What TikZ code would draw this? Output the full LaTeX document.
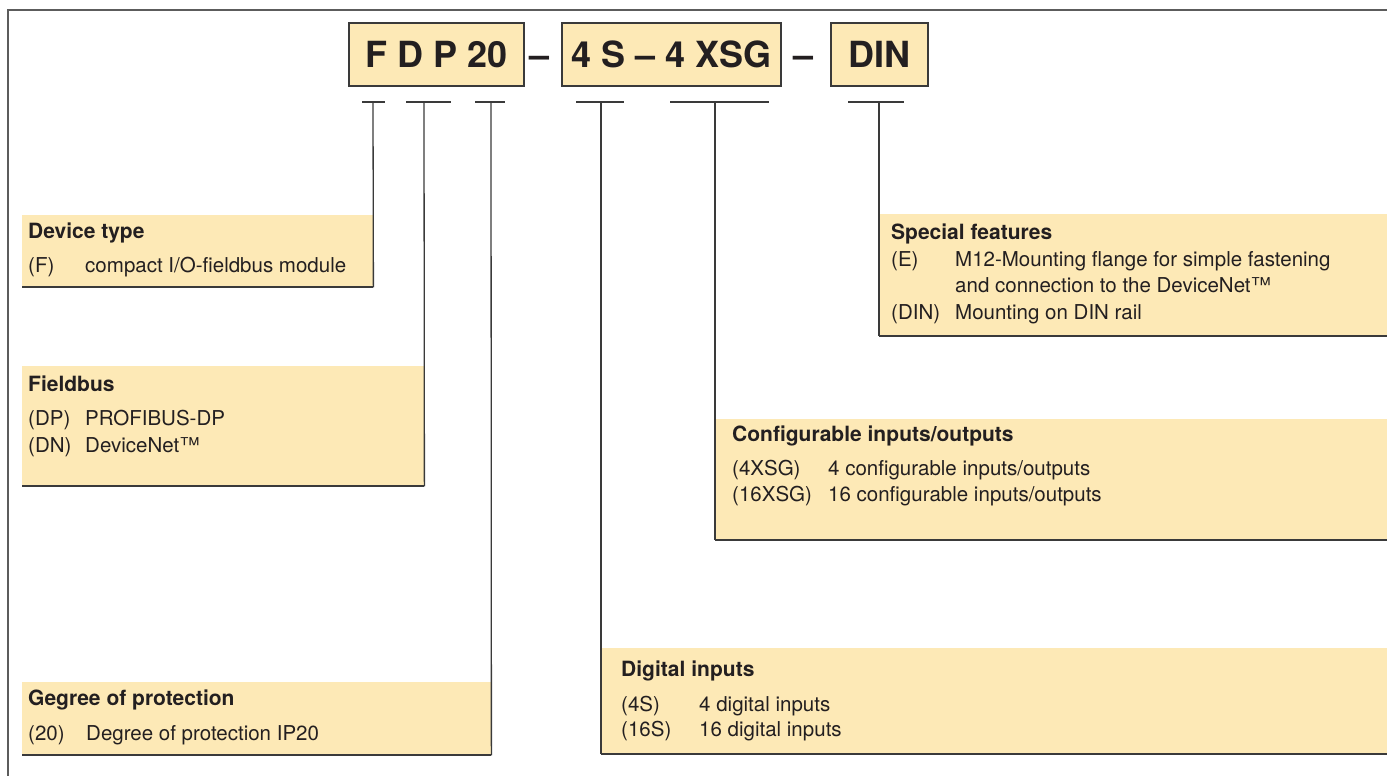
\documentclass[tikz,border=0pt]{standalone}
\usepackage{fontspec}
\setmainfont{TeX Gyre Heros}
\usetikzlibrary{positioning}
\definecolor{fgdark}{HTML}{231F20}
\definecolor{edgecol}{HTML}{3A3A3A}
\definecolor{framecol}{HTML}{5C5C5C}
\definecolor{panelfill}{HTML}{FDE9B6}
\tikzset{
  codebox/.style={
    draw=edgecol, fill=panelfill, line width=1.2pt,
    minimum height=63pt, inner sep=0pt,
    font=\fontsize{36}{36}\selectfont\bfseries, text=fgdark,
  },
  codesep/.style={inner sep=0pt, font=\fontsize{36}{36}\selectfont\bfseries, text=fgdark},
  panel/.style={fill=panelfill, inner sep=0pt, anchor=north west},
  ptitle/.style={anchor=base west, inner sep=0pt, font=\fontsize{21}{24}\selectfont\bfseries, text=fgdark},
  pitem/.style={anchor=base west, inner sep=0pt, font=\fontsize{20.5}{24}\selectfont, text=fgdark},
  conn/.style={edgecol, line width=1.3pt},
  ledge/.style={edgecol, line width=2pt},
  outframe/.style={framecol, line width=1.5pt},
}

\begin{document}
\begin{tikzpicture}[x=1pt, y=-1pt]
\useasboundingbox (0,0) rectangle (1387,776);

% ── outer frame (open to the right and bottom) ─────────────────
\draw[outframe] (8,776) -- (8,10) -- (1387,10);

% ── type code ──────────────────────────────────────────────────
\node[codebox, minimum width=175pt] (codeA) at (436.5,54.5) {F D P 20};
\node[codesep, anchor=base] (dashA) at (540,67) {--};
\node[codebox, minimum width=219pt] (codeB) at (671.5,54.5) {4 S -- 4 XSG};
\node[codesep, anchor=base] (dashB) at (803,67) {--};
\node[codebox, minimum width=97pt] (codeC) at (879.5,54.5) {DIN};

% ── tick marks under the code letters ──────────────────────────
\coordinate (tF)   at (373,102);
\coordinate (tD)   at (424,102);
\coordinate (tP)   at (491,102);
\coordinate (tS)   at (601,102);
\coordinate (tXSG) at (715,102);
\coordinate (tDIN) at (879,102);
\draw[conn] ([xshift=-11]tF) -- ([xshift=12]tF);
\draw[conn] ([xshift=-18]tD) -- ([xshift=27]tD);
\draw[conn] ([xshift=-16]tP) -- ([xshift=14]tP);
\draw[conn] ([xshift=-25]tS) -- ([xshift=23]tS);
\draw[conn] ([xshift=-45]tXSG) -- ([xshift=54]tXSG);
\draw[conn] ([xshift=-31]tDIN) -- ([xshift=25]tDIN);

% ── panels (left) ──────────────────────────────────────────────
\node[panel, minimum width=351pt, minimum height=72pt]  (devtype) at (22,215) {};
\node[panel, minimum width=402pt, minimum height=120pt] (fieldbus) at (22,366) {};
\node[panel, minimum width=469pt, minimum height=73pt]  (protect) at (22,682) {};

% ── panels (right) ─────────────────────────────────────────────
\node[panel, minimum width=520pt, minimum height=122pt] (special) at (879,214) {};
\node[panel, minimum width=680pt, minimum height=121pt] (cfgio) at (715,419) {};
\node[panel, minimum width=795pt, minimum height=106pt] (digin) at (601,648) {};

% ── connectors and panel edges ─────────────────────────────────
\draw[conn] (tF) -- (devtype.south east);
\draw[conn] (tD) -- (fieldbus.south east);
\draw[conn] (tP) -- (protect.south east);
\draw[conn] (tS) -- (digin.south west);
\draw[conn] (tXSG) -- (cfgio.south west);
\draw[conn] (tDIN) -- (special.south west);
\draw[ledge] (devtype.south west) -- (devtype.south east);
\draw[ledge] (fieldbus.south west) -- (fieldbus.south east);
\draw[ledge] (protect.south west) -- (protect.south east);
\draw[ledge] (digin.south west) -- (digin.south east);
\draw[ledge] (cfgio.south west) -- (cfgio.south east);
\draw[ledge] (special.south west) -- (special.south east);

% ── panel texts ────────────────────────────────────────────────
\node[ptitle] (devtypeT) at (28,238.5) {Device type};
\node[pitem]  (fK)  at (28,272) {(F)};
\node[pitem]  (fV)  at (85,272) {compact I/O-fieldbus module};

\node[ptitle] (fieldbusT) at (28,391.5) {Fieldbus};
\node[pitem]  (dpK) at (28,425) {(DP)};
\node[pitem]  (dpV) at (85,425) {PROFIBUS-DP};
\node[pitem]  (dnK) at (28,452) {(DN)};
\node[pitem]  (dnV) at (85,452) {DeviceNet™};

\node[ptitle] (protectT) at (28,705.5) {Gegree of protection};
\node[pitem]  (ipK) at (28,740) {(20)};
\node[pitem]  (ipV) at (86,740) {Degree of protection IP20};

\node[ptitle] (specialT) at (891,239.5) {Special features};
\node[pitem]  (eK)   at (891,266) {(E)};
\node[pitem]  (eV)   at (955,266) {M12-Mounting flange for simple fastening};
\node[pitem]  (eV2)  at (955,292) {and connection to the DeviceNet™};
\node[pitem]  (dinK) at (891,319) {(DIN)};
\node[pitem]  (dinV) at (955,319) {Mounting on DIN rail};

\node[ptitle] (cfgioT) at (732,441.5) {Configurable inputs/outputs};
\node[pitem]  (x4K)  at (732,475) {(4XSG)};
\node[pitem]  (x4V)  at (828,475) {4 configurable inputs/outputs};
\node[pitem]  (x16K) at (732,501) {(16XSG)};
\node[pitem]  (x16V) at (828,501) {16 configurable inputs/outputs};

\node[ptitle] (diginT) at (621,676.5) {Digital inputs};
\node[pitem]  (s4K)  at (621,711) {(4S)};
\node[pitem]  (s4V)  at (699,711) {4 digital inputs};
\node[pitem]  (s16K) at (621,736) {(16S)};
\node[pitem]  (s16V) at (699,736) {16 digital inputs};

\end{tikzpicture}
\end{document}
